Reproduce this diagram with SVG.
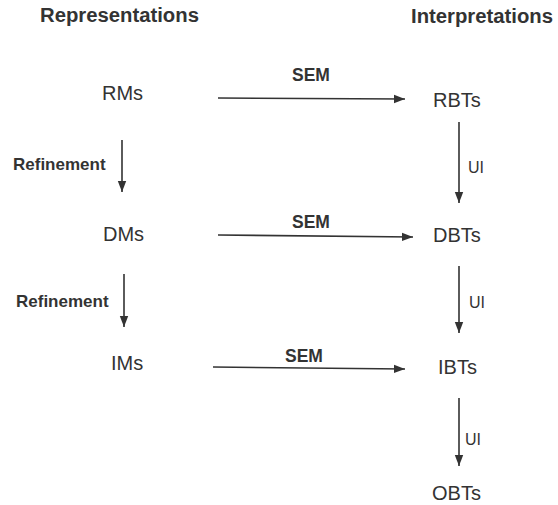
<svg xmlns="http://www.w3.org/2000/svg" width="558" height="505" viewBox="0 0 558 505">
<defs>
<marker id="ah" markerUnits="userSpaceOnUse" markerWidth="12" markerHeight="10" refX="11" refY="5" orient="auto">
<path d="M0,0.8 L11,5 L0,9.2 Z" fill="#333"/>
</marker>
<style>
.hdr{font-family:"Liberation Sans",Arial,sans-serif;font-weight:bold;font-size:20.3px;fill:#333}
.node{font-family:"Liberation Sans",Arial,sans-serif;font-size:20px;fill:#333}
.sem{font-family:"Liberation Sans",Arial,sans-serif;font-weight:bold;font-size:17.5px;fill:#333}
.ref{font-family:"Liberation Sans",Arial,sans-serif;font-weight:bold;font-size:17px;fill:#333}
.ui{font-family:"Liberation Sans",Arial,sans-serif;font-size:16px;fill:#333}
.edge{stroke:#333;stroke-width:1.6;fill:none;marker-end:url(#ah)}
</style>
</defs>
<rect width="558" height="505" fill="#fff"/>
<text class="hdr" x="40" y="22">Representations</text>
<text class="hdr" x="411" y="23">Interpretations</text>
<g id="RMs"><text class="node" x="102" y="100">RMs</text></g>
<g id="RBTs"><text class="node" x="433" y="107">RBTs</text></g>
<g id="DMs"><text class="node" x="103" y="241">DMs</text></g>
<g id="DBTs"><text class="node" x="433" y="242">DBTs</text></g>
<g id="IMs"><text class="node" x="111" y="370">IMs</text></g>
<g id="IBTs"><text class="node" x="438" y="374">IBTs</text></g>
<g id="OBTs"><text class="node" x="432" y="500">OBTs</text></g>
<g id="connectors">
<line class="edge" x1="218" y1="98" x2="405" y2="99"/>
<line class="edge" x1="218" y1="235" x2="413" y2="237"/>
<line class="edge" x1="213" y1="367" x2="405" y2="369"/>
<line class="edge" x1="122" y1="140" x2="122" y2="192"/>
<line class="edge" x1="124" y1="274" x2="124" y2="327"/>
<line class="edge" x1="459" y1="122" x2="459" y2="203"/>
<line class="edge" x1="459" y1="266" x2="459" y2="333"/>
<line class="edge" x1="459" y1="398" x2="459" y2="466"/>
<text class="sem" x="292" y="81">SEM</text>
<text class="sem" x="292" y="228">SEM</text>
<text class="sem" x="285" y="362">SEM</text>
<text class="ref" x="13" y="170">Refinement</text>
<text class="ref" x="16" y="307">Refinement</text>
<text class="ui" x="468" y="173">UI</text>
<text class="ui" x="469" y="308">UI</text>
<text class="ui" x="465" y="445">UI</text>
</g>
</svg>
